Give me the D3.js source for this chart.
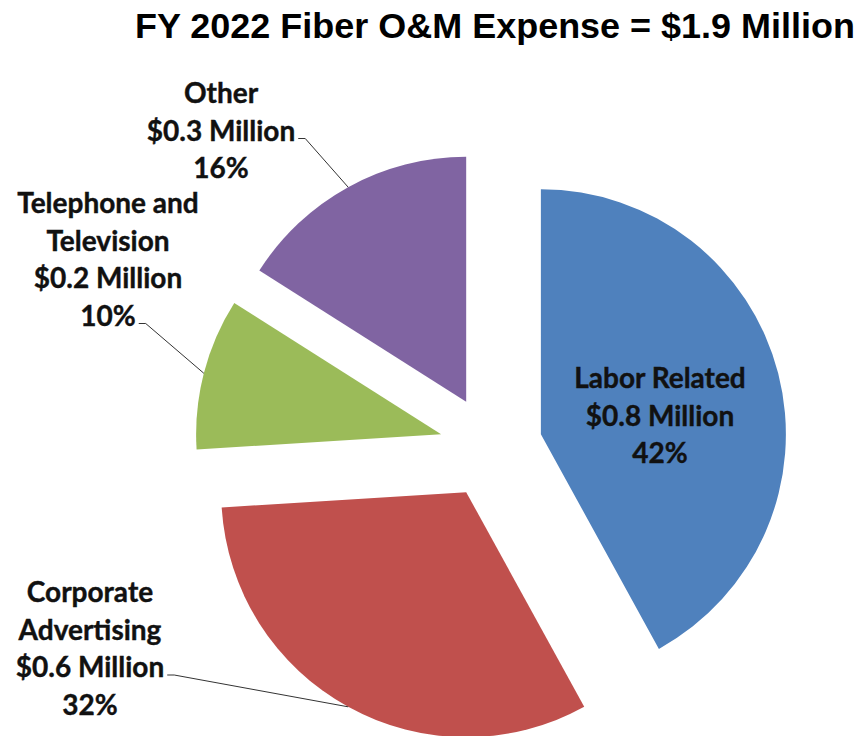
<!DOCTYPE html>
<html>
<head>
<meta charset="utf-8">
<script src="https://cdn.jsdelivr.net/npm/d3@7"></script>
<style>
  body { margin: 0; background: #fff; }
  svg { display: block; }
</style>
</head>
<body>
<div id="chart"></div>
<script>
// Chart data
const title = "FY 2022 Fiber O&M Expense = $1.9 Million";
const categoryLines = [["Labor Related"], ["Corporate", "Advertising"], ["Telephone and", "Television"], ["Other"]];
const amounts = ["$0.8 Million", "$0.6 Million", "$0.2 Million", "$0.3 Million"];
const shares = [42, 32, 10, 16];
const colors = ["#4F81BD", "#C0504D", "#9BBB59", "#8064A2"];

// Layout
const width = 862, height = 736;
const cx = 491, cy = 447, radius = 245, explode = 51.5;
const lineGap = 37.5;
// label anchor: centre x, first baseline, draw leader?
const labelLayout = [
  { x: 660, y: 388, leader: false },
  { x: 90, y: 602, leader: true },
  { x: 108, y: 213, leader: true },
  { x: 221, y: 103, leader: true }
];
// which text line the leader starts from
const leaderLine = [null, 2, 3, 1];

const svg = d3.select("#chart")
  .append("svg")
  .attr("width", width)
  .attr("height", height);

// Title
svg.append("text")
  .attr("x", 495)
  .attr("y", 38)
  .attr("text-anchor", "middle")
  .attr("textLength", 720)
  .attr("lengthAdjust", "spacingAndGlyphs")
  .style("font-family", "'Liberation Sans', Arial, sans-serif")
  .style("font-weight", "bold")
  .style("font-size", "35px")
  .style("fill", "#000")
  .text(title);

const pie = d3.pie().sort(null).value(d => d);
const arcs = pie(shares);
const arc = d3.arc().innerRadius(0).outerRadius(radius);

// slice offset along its mid angle
function offset(d) {
  const mid = (d.startAngle + d.endAngle) / 2;
  return [explode * Math.sin(mid), -explode * Math.cos(mid)];
}

const g = svg.append("g").attr("transform", `translate(${cx},${cy})`);

g.selectAll(".slice")
  .data(arcs)
  .enter().append("path")
  .attr("class", "slice")
  .attr("transform", d => `translate(${offset(d)[0]},${offset(d)[1]})`)
  .attr("d", arc)
  .attr("fill", (d, i) => colors[i]);

// Labels
arcs.forEach((d, i) => {
  const lay = labelLayout[i];
  const lines = categoryLines[i].concat([amounts[i], shares[i] + "%"]);
  const txt = svg.append("g");
  const nodes = lines.map((s, k) => txt.append("text")
    .attr("x", lay.x)
    .attr("y", lay.y + k * lineGap)
    .attr("text-anchor", "middle")
    .style("font-family", "Lato, 'Open Sans', sans-serif")
    .style("font-weight", "bold")
    .style("font-size", "28px")
    .style("fill", "#111")
    .style("stroke", "#111")
    .style("stroke-width", 0.4)
    .text(s));

  if (lay.leader) {
    const k = leaderLine[i];
    const w = nodes[k].node().getComputedTextLength();
    const x0 = lay.x + w / 2 + 3;
    const y0 = lay.y + k * lineGap - 2;
    const mid = (d.startAngle + d.endAngle) / 2;
    const [ox, oy] = offset(d);
    const x1 = cx + ox + radius * Math.sin(mid);
    const y1 = cy + oy - radius * Math.cos(mid);
    svg.append("path")
      .attr("d", d3.line()([[x0, y0], [x0 + 7, y0], [x1, y1]]))
      .attr("fill", "none")
      .attr("stroke", "#333")
      .attr("stroke-width", 1);
  }
});
</script>
</body>
</html>
